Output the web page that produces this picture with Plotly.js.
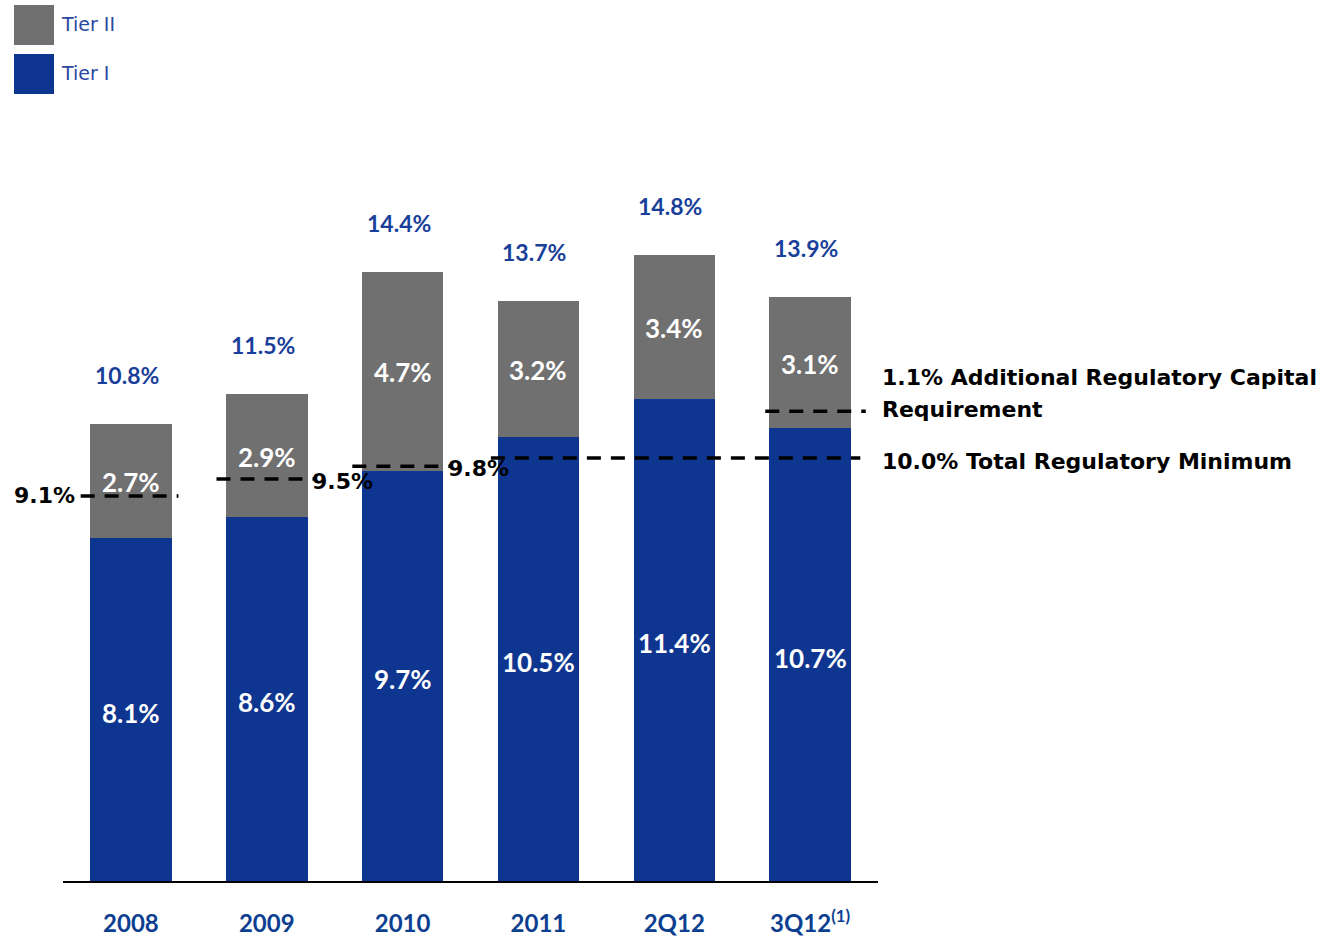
<!DOCTYPE html>
<html>
<head>
<meta charset="utf-8">
<script src="https://cdn.plot.ly/plotly-3.0.1.min.js"></script>
<style>
  html, body { margin: 0; padding: 0; background: #ffffff; }
  #chart { width: 1332px; height: 939px; }
</style>
</head>
<body>
<div id="chart"></div>
<script>
// ---- data ----
const categories = ['2008', '2009', '2010', '2011', '2Q12', '3Q12'];
const tickLabels = ['2008', '2009', '2010', '2011', '2Q12', '3Q12<sup>(1)</sup>'];
const tier1 = [8.1, 8.6, 9.7, 10.5, 11.4, 10.7];
const tier2 = [2.7, 2.9, 4.7, 3.2, 3.4, 3.1];
const totals = [10.8, 11.5, 14.4, 13.7, 14.8, 13.9];
// regulatory minimum per year (first three years)
const minYears = ['2008', '2009', '2010'];
const minValues = [9.1, 9.5, 9.8];
const totalMinimum = 10.0;          // from 2011 onward
const additionalRequirement = 1.1;  // 3Q12 extra requirement

// ---- styles ----
const BLUE = '#0e358f';
const GRAY = '#707070';
const LABEL_BLUE = '#1a3f9a';
const numFont = 'Lato, "Open Sans", sans-serif';
const refFont = '"DejaVu Sans", Verdana, sans-serif';

const traces = [
  {
    type: 'bar', name: 'Tier I', x: categories, y: tier1,
    marker: { color: BLUE, line: { width: 0 } }, hoverinfo: 'none'
  },
  {
    type: 'bar', name: 'Tier II', x: categories, y: tier2,
    marker: { color: GRAY, line: { width: 0 } }, hoverinfo: 'none'
  }
];

const annotations = [];
const shapes = [];
const fmt = v => v.toFixed(1) + '%';

categories.forEach((c, i) => {
  // Tier I label
  annotations.push({
    x: i, y: tier1[i] / 2, xref: 'x', yref: 'y', text: fmt(tier1[i]),
    showarrow: false, font: { family: numFont, size: 26, color: '#ffffff', weight: 'bold' }, yshift: -3
  });
  // Tier II label
  annotations.push({
    x: i, y: tier1[i] + tier2[i] / 2, xref: 'x', yref: 'y', text: fmt(tier2[i]),
    showarrow: false, font: { family: numFont, size: 26, color: '#ffffff', weight: 'bold' }, yshift: -1
  });
  // total label
  annotations.push({
    x: i, y: tier1[i] + tier2[i], xref: 'x', yref: 'y', text: fmt(totals[i]),
    showarrow: false, font: { family: numFont, size: 23, color: LABEL_BLUE, weight: 'bold' },
    yanchor: 'middle', yshift: 49, xshift: -4
  });
});

const dashLine = { color: '#000000', width: 3.5, dash: '14px,10px' };
const refLabelFont = { family: refFont, size: 22, color: '#000000', weight: 'bold' };

// per-year minimum lines (2008-2010)
minYears.forEach((c, i) => {
  const idx = categories.indexOf(c);
  shapes.push({
    type: 'line', xref: 'x', yref: 'y',
    x0: idx - 0.37, x1: idx + 0.35, y0: minValues[i], y1: minValues[i],
    line: dashLine
  });
  annotations.push(i === 0 ? {
    x: idx - 0.4, y: minValues[i], xref: 'x', yref: 'y', xanchor: 'right',
    text: fmt(minValues[i]), showarrow: false, font: refLabelFont
  } : {
    x: idx + 0.32, y: minValues[i], xref: 'x', yref: 'y', xanchor: 'left',
    text: fmt(minValues[i]), showarrow: false, yshift: -2, font: refLabelFont
  });
});

// 10.0% total regulatory minimum (2011 onward)
const i2011 = categories.indexOf('2011');
shapes.push({
  type: 'line', xref: 'x', yref: 'y',
  x0: i2011 - 0.35, x1: categories.length - 0.63, y0: totalMinimum, y1: totalMinimum,
  line: dashLine
});
const rightX = 1.0025;
annotations.push({
  x: rightX, y: totalMinimum, xref: 'paper', yref: 'y', xanchor: 'left', yshift: -4,
  text: fmt(totalMinimum) + ' Total Regulatory Minimum', showarrow: false,
  font: refLabelFont
});

// additional requirement line (3Q12)
const iLast = categories.length - 1;
const addLevel = totalMinimum + additionalRequirement;
shapes.push({
  type: 'line', xref: 'x', yref: 'y',
  x0: iLast - 0.33, x1: iLast + 0.41, y0: addLevel, y1: addLevel,
  line: dashLine
});
annotations.push({
  x: rightX, y: addLevel, xref: 'paper', yref: 'y', xanchor: 'left',
  yanchor: 'middle', yshift: 34,
  text: fmt(additionalRequirement) + ' Additional Regulatory Capital',
  showarrow: false, font: refLabelFont
});
annotations.push({
  x: rightX, y: addLevel, xref: 'paper', yref: 'y', xanchor: 'left',
  yanchor: 'middle', yshift: 2,
  text: 'Requirement',
  showarrow: false, font: refLabelFont
});

// custom legend (top-left)
const legendItems = [
  { name: 'Tier II', color: GRAY, top: 5 },
  { name: 'Tier I', color: BLUE, top: 54 }
];
legendItems.forEach(it => {
  shapes.push({
    type: 'rect', xref: 'paper', yref: 'paper',
    x0: (14 - 63) / 815, x1: (54 - 63) / 815,
    y0: (881 - (it.top + 40)) / 677, y1: (881 - it.top) / 677,
    fillcolor: it.color, line: { width: 0 }
  });
  annotations.push({
    xref: 'paper', yref: 'paper', x: (59 - 63) / 815, y: (881 - (it.top + 19)) / 677,
    xanchor: 'left', yanchor: 'middle', text: it.name, showarrow: false,
    font: { family: refFont, size: 19, color: '#2a48a0' }
  });
});

const layout = {
  width: 1332, height: 939,
  margin: { l: 63, r: 454, t: 204, b: 58, pad: 0 },
  paper_bgcolor: '#ffffff', plot_bgcolor: '#ffffff',
  barmode: 'stack', bargap: 0.4,
  showlegend: false,
  xaxis: {
    type: 'category', range: [-0.5, 5.5],
    tickmode: 'array', tickvals: categories, ticktext: tickLabels,
    showline: true, linecolor: '#000000', linewidth: 2,
    ticks: 'outside', ticklen: 20, tickcolor: 'rgba(0,0,0,0)',
    tickfont: { family: 'Lato, "Open Sans", sans-serif', size: 24, color: '#0d3f91', weight: 'bold' },
    showgrid: false, zeroline: false, fixedrange: true
  },
  yaxis: { range: [0, 16], visible: false, fixedrange: true },
  annotations: annotations,
  shapes: shapes
};

Plotly.newPlot('chart', traces, layout, { displayModeBar: false, staticPlot: true });
</script>
</body>
</html>
